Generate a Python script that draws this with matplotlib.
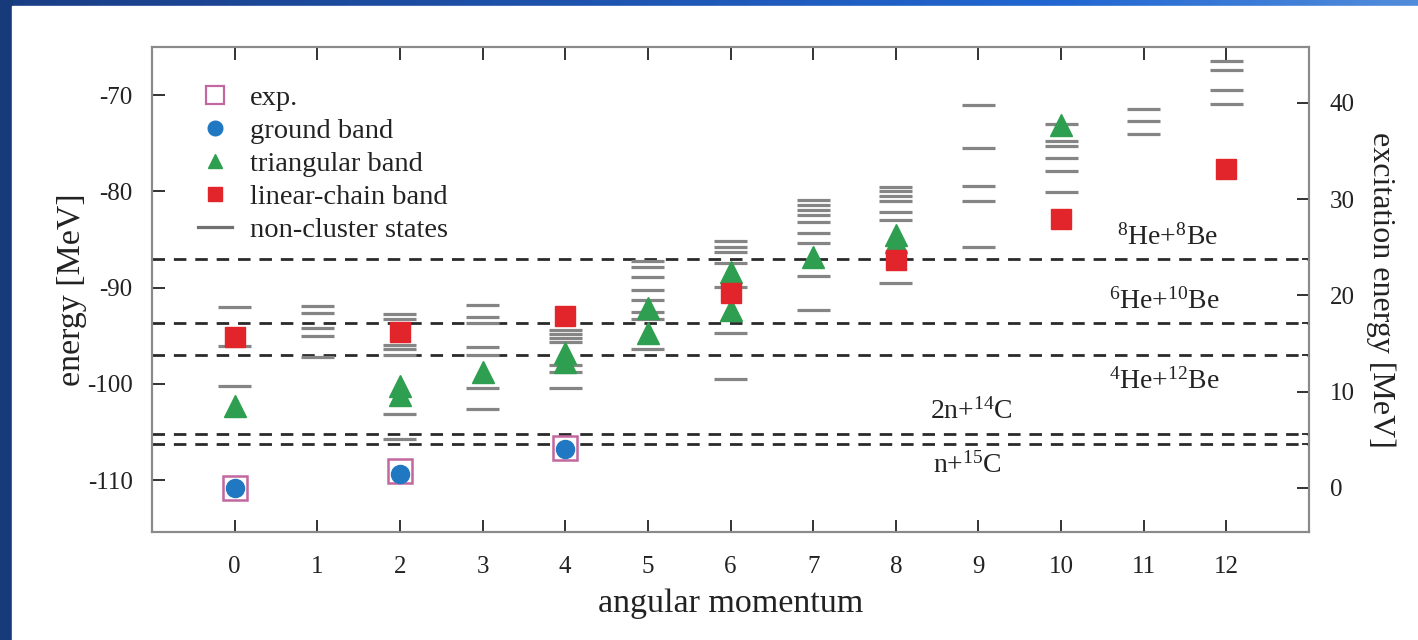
import numpy as np
import matplotlib.pyplot as plt
from matplotlib.lines import Line2D
from matplotlib.patches import Rectangle

plt.rcParams['font.family'] = ['Liberation Serif', 'DejaVu Serif']
plt.rcParams['mathtext.fontset'] = 'custom'
plt.rcParams['mathtext.rm'] = 'Liberation Serif'
plt.rcParams['mathtext.it'] = 'Liberation Serif:italic'
plt.rcParams['axes.unicode_minus'] = False

# energy of the ground state, zero of the excitation-energy axis (MeV)
e_ground = -110.8

# experimental levels and the calculated bands (angular momentum, energy in MeV)
exp_j = [0, 2, 4]
exp_e = [-110.8, -109.1, -106.7]

ground_j = [0, 2, 4]
ground_e = [-110.8, -109.4, -106.8]

tri_j = [0, 2, 2, 3, 4, 4, 5, 5, 6, 6, 7, 8, 8, 10]
tri_e = [-102.3, -100.2, -101.2, -98.75, -96.8, -97.7, -92.1, -94.7,
         -88.4, -92.3, -86.8, -84.5, -85.3, -73.1]

chain_j = [0, 2, 4, 6, 8, 10, 12]
chain_e = [-95.1, -94.6, -93.0, -90.6, -87.1, -82.9, -77.7]

# non-cluster states (flat lists, grouped by J)
nc_j = [0, 0, 0,
        1, 1, 1, 1, 1,
        2, 2, 2, 2, 2, 2, 2,
        3, 3, 3, 3, 3, 3, 3,
        4, 4, 4, 4, 4, 4, 4,
        5, 5, 5, 5, 5, 5, 5, 5,
        6, 6, 6, 6, 6, 6, 6,
        7, 7, 7, 7, 7, 7, 7, 7, 7,
        8, 8, 8, 8, 8, 8, 8,
        9, 9, 9, 9, 9,
        10, 10, 10, 10, 10, 10,
        11, 11, 11,
        12, 12, 12, 12]
nc_e = [-92.0, -96.05, -100.2,
        -91.9, -92.6, -94.2, -95.0, -97.2,
        -92.75, -93.3, -96.0, -96.4, -97.0, -103.1, -105.7,
        -91.8, -93.1, -93.7, -96.2, -97.0, -100.4, -102.65,
        -94.4, -94.8, -95.2, -95.7, -98.05, -98.75, -100.4,
        -87.25, -87.9, -88.9, -90.26, -91.3, -92.5, -93.3, -96.4,
        -85.2, -85.8, -86.3, -87.45, -89.95, -94.7, -99.5,
        -80.9, -81.4, -81.9, -82.5, -83.2, -84.3, -85.35, -88.8, -92.3,
        -79.5, -80.0, -80.5, -81.0, -82.1, -83.0, -89.5,
        -71.0, -75.5, -79.45, -81.0, -85.8,
        -73.0, -74.75, -75.3, -76.5, -77.9, -80.1,
        -71.4, -72.7, -74.0,
        -66.5, -67.4, -69.5, -70.9]

# decay thresholds
thr_e = [-87.0, -93.7, -97.0, -105.2, -106.3]
thr_labels = [r'$^{8}$He+$^{8}$Be', r'$^{6}$He+$^{10}$Be', r'$^{4}$He+$^{12}$Be',
              r'2n+$^{14}$C', r'n+$^{15}$C']

c_exp = '#c2679f'
c_ground = '#1f78c1'
c_tri = '#2e9e50'
c_chain = '#e1252b'
c_nc = '#858585'
c_spine = '#8a8a8a'
c_text = '#222222'

fig = plt.figure(figsize=(14.18, 6.4), dpi=100)

# slide background: blue gradient bar on top and a dark strip at the left
bg = fig.add_axes([0, 0, 1, 1], zorder=-10)
bg.axis('off')
grad = np.linspace(0, 1, 256)
cols = np.array([[0.10, 0.24, 0.52], [0.13, 0.40, 0.82], [0.32, 0.55, 0.86]])
xp = [0, 0.75, 1]
img = np.stack([np.interp(grad, xp, cols[:, k]) for k in range(3)], axis=-1)[None, :, :]
bg.imshow(img, aspect='auto', extent=[0, 1, 0, 1])
bg.add_patch(Rectangle((0, 0), 12 / 1418, 1, color='#163a7a', zorder=2))
bg.add_patch(Rectangle((12 / 1418, 0), 1, 1 - 6 / 640, color='white', zorder=3))
bg.set_xlim(0, 1)
bg.set_ylim(0, 1)

ax = fig.add_axes([152 / 1418, 108 / 640, 1157 / 1418, 485 / 640])
ax.set_xlim(-1, 13)
ax.set_ylim(-115.4, -65.0)

# thresholds
for e in thr_e:
    ax.axhline(e, color='#2a2a2a', lw=2.0, dashes=(4.5, 3.2), zorder=1)

# non-cluster states as short grey bars
nc_j_arr = np.array(nc_j)
ax.hlines(nc_e, nc_j_arr - 0.2, nc_j_arr + 0.2, color=c_nc, lw=2.3, zorder=2)

# bands
ax.plot(exp_j, exp_e, 's', ms=17, mfc='white', mec=c_exp, mew=1.8, ls='none', zorder=3)
ax.plot(ground_j, ground_e, 'o', ms=13, color=c_ground, ls='none', zorder=4)
ax.plot(tri_j, tri_e, '^', ms=16, color=c_tri, ls='none', zorder=4)
ax.plot(chain_j, chain_e, 's', ms=14.5, color=c_chain, ls='none', zorder=4)

# threshold labels
label_pos = [(11.29, -84.75), (11.25, -91.4), (11.25, -99.7), (8.92, -102.9), (8.87, -108.5)]
for txt, (lx, ly) in zip(thr_labels, label_pos):
    ax.text(lx, ly, txt, fontsize=20, ha='center', va='center', color=c_text)

ax.set_xticks(range(0, 13))
ax.set_yticks([-70, -80, -90, -100, -110])
ax.tick_params(axis='both', direction='in', length=9, width=1.3, labelsize=18,
               colors=c_text, top=True, right=False)
ax.tick_params(axis='x', pad=17)
ax.tick_params(axis='y', pad=14)
ax.set_xlabel('angular momentum', fontsize=24.5, color=c_text, labelpad=8)
ax.set_ylabel('energy [MeV]', fontsize=24.5, color=c_text, labelpad=0)

# excitation energy on the right
ax2 = ax.twinx()
ax2.set_ylim(ax.get_ylim()[0] - e_ground, ax.get_ylim()[1] - e_ground)
ax2.set_yticks([0, 10, 20, 30, 40])
ax2.set_yticks([e - e_ground for e in thr_e], minor=True)
ax2.tick_params(axis='y', which='major', direction='in', length=9, width=1.3,
                labelsize=18, colors=c_text, pad=15)
ax2.tick_params(axis='y', which='minor', direction='in', length=5, width=1.3, colors=c_text)
ax2.set_ylabel('excitation energy [MeV]', fontsize=23, color=c_text,
               rotation=-90, labelpad=29)

for a in (ax, ax2):
    for s in a.spines.values():
        s.set_color(c_spine)
        s.set_linewidth(1.5)

handles = [
    Line2D([], [], marker='s', ms=13, mfc='white', mec=c_exp, mew=1.6, ls='none'),
    Line2D([], [], marker='o', ms=10.5, color=c_ground, ls='none'),
    Line2D([], [], marker='^', ms=10, color=c_tri, ls='none'),
    Line2D([], [], marker='s', ms=10.5, color=c_chain, ls='none'),
    Line2D([], [], color='#707070', lw=2.3),
]
names = ['exp.', 'ground band', 'triangular band', 'linear-chain band', 'non-cluster states']
leg = ax.legend(handles, names, loc='upper left', bbox_to_anchor=(0.04, 0.922),
                frameon=False, fontsize=20.5, handlelength=1.2, handletextpad=0.6,
                labelspacing=0.25, borderpad=0, borderaxespad=0)
for t in leg.get_texts():
    t.set_color(c_text)

fig.savefig('out.png', dpi=100)
